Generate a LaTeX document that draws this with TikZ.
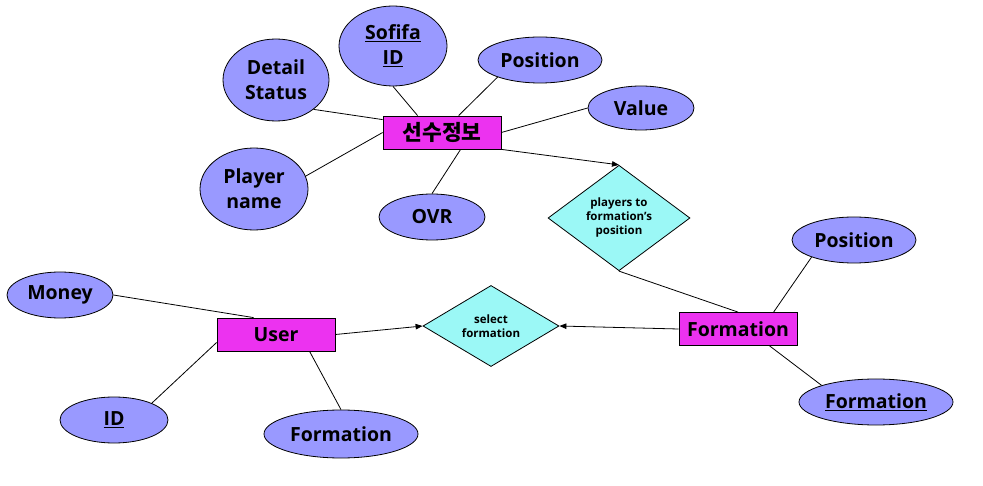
\documentclass[tikz,border=0pt]{standalone}
\usepackage{fontspec}
\setmainfont{Open Sans}
\newfontfamily\krfont{Noto Sans CJK KR}
\usetikzlibrary{shapes.geometric,calc,arrows.meta}
\definecolor{attrc}{RGB}{153,153,255}
\definecolor{entc}{RGB}{236,50,240}
\definecolor{relc}{RGB}{155,248,246}
\tikzset{
  attr/.style={ellipse,draw=black,line width=0.8pt,fill=attrc,inner sep=0pt,align=center,
    font=\bfseries\fontsize{19.5}{25}\selectfont},
  ent/.style={rectangle,draw=black,line width=0.8pt,fill=entc,inner sep=0pt,
    minimum width=118pt,minimum height=33pt,font=\bfseries\fontsize{19.5}{25}\selectfont},
  rel/.style={diamond,draw=black,line width=0.8pt,fill=relc,inner sep=0pt,align=center,
    font=\bfseries\fontsize{11.5}{14}\selectfont},
  conn/.style={line width=0.8pt,black},
  arr/.style={conn,-{Triangle[length=7pt,width=5.5pt]}}
}
\begin{document}
\begin{tikzpicture}[x=1pt,y=-1pt]
\useasboundingbox (0,0) rectangle (983,486);
% entities
\node[ent] (pl) at (442,132.5) {\krfont\bfseries\fontsize{21.5}{25}\selectfont 선수정보};
\node[ent] (fm) at (738,329) {Formation};
\node[ent] (us) at (276,334.5) {User};
% relationships
\node[rel,minimum width=142pt,minimum height=98pt] (pf) at (619,218) {players to\\formation’s\\position};
\node[rel,minimum width=136pt,minimum height=76pt] (sf) at (491,326) {select\\formation};
% attributes
\node[attr,minimum width=108pt,minimum height=80pt] (sof) at (393,46) {\underline{Sofifa}\\\underline{ID}};
\node[attr,minimum width=106pt,minimum height=82pt] (det) at (276,80) {Detail\\Status};
\node[attr,minimum width=124pt,minimum height=46pt] (pos) at (540,60) {Position};
\node[attr,minimum width=106pt,minimum height=44pt] (val) at (641,108) {Value};
\node[attr,minimum width=108pt,minimum height=82pt] (pn) at (254,189) {Player\\name};
\node[attr,minimum width=106pt,minimum height=46pt] (ovr) at (432,217) {OVR};
\node[attr,minimum width=124pt,minimum height=46pt] (pos2) at (854,240) {Position};
\node[attr,minimum width=154pt,minimum height=46pt] (fel) at (876,402) {\underline{Formation}};
\node[attr,minimum width=106pt,minimum height=46pt] (mon) at (60,295) {Money};
\node[attr,minimum width=108pt,minimum height=46pt] (id) at (114,420) {\underline{ID}};
\node[attr,minimum width=154pt,minimum height=48pt] (ufm) at (341,434) {Formation};
% connectors
\draw[conn] (det.-38) -- ($(pl.north west)+(0,4)$);
\draw[conn] (sof.south) -- ($(pl.north west)+(35,0)$);
\draw[conn] (pos.202) -- ($(pl.north west)+(76,0)$);
\draw[conn] (val.west) -- (pl.east);
\draw[conn] (pn.14) -- (pl.west);
\draw[conn] (ovr.north) -- ($(pl.south west)+(78,0)$);
\draw[arr] (pl.south east) -- (pf.north);
\draw[conn] (pf.south) -- (fm.north);
\draw[arr] (fm.west) -- (sf.east);
\draw[arr] (us.east) -- (sf.west);
\draw[conn] (mon.east) -- ($(us.north west)+(37,0)$);
\draw[conn] (id.24) -- ($(us.west)+(0,8)$);
\draw[conn] (ufm.north) -- ($(us.south west)+(93,0)$);
\draw[conn] ($(fm.north west)+(95,0)$) -- (pos2.202);
\draw[conn] ($(fm.south west)+(91,0)$) -- (fel.163);
\end{tikzpicture}
\end{document}
